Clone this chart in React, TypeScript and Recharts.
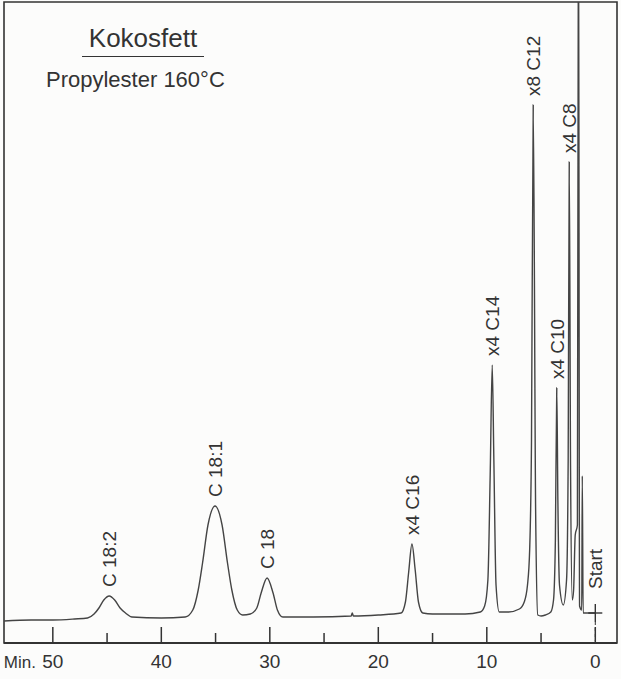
import React from "react";
import {
  ComposedChart,
  Line,
  XAxis,
  YAxis,
  ReferenceArea,
  ReferenceDot,
} from "recharts";

// Retention time (minutes) of points
const traceTimes = [
  0, 1.12, 1.2, 1.25, 1.45, 1.55, 1.65, 1.85, 2.0, 2.12, 2.28, 2.4, 2.5, 2.65,
  2.95, 3.3, 3.45, 3.55, 3.68, 3.85, 4.1, 4.6, 5.0, 5.3, 5.5, 5.72, 5.88, 6.05,
  6.25, 6.55, 7.0, 8.0, 8.85, 9.15, 9.35, 9.5, 9.68, 9.9, 10.2, 10.6, 12.0,
  15.0, 15.9, 16.3, 16.6, 16.9, 17.2, 17.5, 17.9, 20.0, 22.3, 22.4, 22.5, 26.0,
  28.8, 29.3, 29.7, 30.25, 30.8, 31.2, 31.8, 32.5, 33.0, 33.5, 33.9, 34.4,
  35.05, 35.7, 36.2, 36.6, 37.1, 37.8, 40.0, 42.7, 43.3, 43.8, 44.3, 44.8,
  45.3, 45.75, 46.2, 46.8, 48.0, 50.0, 52.0, 54.5,
];
// Detector signal (pen deflection, arbitrary units) at those times
const traceSignal = [
  7, 7, 144, 10, 14, 760, 95, 85, 30, 20, 150, 458, 160, 40,
  15, 35, 120, 232, 80, 20, 8, 5, 4, 5, 110, 515, 180, 70,
  35, 18, 11, 8, 8, 35, 160, 255, 150, 40, 14, 8, 6,
  6, 7, 18, 50, 76, 48, 18, 7, 5, 4, 7, 4, 3,
  3, 10, 27, 42, 27, 12, 6, 5, 10, 30, 57, 95,
  114, 95, 57, 30, 10, 3, 2, 3, 7, 12, 20, 24,
  20, 12, 6, 2, 1, 0, 0, -1,
];

// Peak annotations
const peakNames = ["C 18:2", "C 18:1", "C 18", "x4 C16", "x4 C14", "x8 C12", "x4 C10", "x4 C8"];
const peakTimes = [44.8, 35.05, 30.25, 16.9, 9.5, 5.72, 3.55, 2.4];
const peakHeights = [24, 114, 42, 76, 255, 515, 232, 458];

// Axis
const axisTicks = [0, 5, 10, 15, 20, 25, 30, 35, 40, 45, 50];
const majorTicks = [0, 10, 20, 30, 40, 50];
const startTime = 0;
const startSignal = 7;

const traceData = traceTimes.map((t, i) => ({ t, s: traceSignal[i] }));
const peakData = peakTimes.map((t, i) => ({ t, s: peakHeights[i], name: peakNames[i] }));

const FONT = "'Liberation Sans', Arial, sans-serif";
const INK = "#333333";

const AxisTick = (props: any) => {
  const { x, y, payload } = props;
  const v = payload.value;
  const major = majorTicks.includes(v);
  return (
    <g>
      <line x1={x} x2={x} y1={y - (major ? 16 : 10)} y2={y} stroke={INK} strokeWidth={1.5} />
      {major && (
        <text x={x} y={y + 25} textAnchor="middle" fontSize={19} fontFamily={FONT} fill={INK}>
          {v}
        </text>
      )}
      {v === 50 && (
        <text x={x - 49} y={y + 25} textAnchor="start" fontSize={17} fontFamily={FONT} fill={INK}>
          Min.
        </text>
      )}
    </g>
  );
};

const PeakLabel = (props: any) => {
  const { x, y, index } = props;
  const fs = 19;
  const bx = x + fs * 0.36;
  const by = y - 9;
  return (
    <text
      x={bx}
      y={by}
      transform={`rotate(-90, ${bx}, ${by})`}
      textAnchor="start"
      fontSize={fs}
      fontFamily={FONT}
      fill={INK}
    >
      {peakNames[index]}
    </text>
  );
};

const StartMark = (props: any) => {
  const { cx, cy } = props;
  const fs = 19;
  const bx = cx + fs * 0.36;
  const by = cy - 24;
  return (
    <g>
      <line x1={cx - 7} x2={cx + 7} y1={cy} y2={cy} stroke={INK} strokeWidth={1.4} />
      <line x1={cx} x2={cx} y1={cy - 9} y2={cy + 9} stroke={INK} strokeWidth={1.4} />
      <line x1={cx} x2={cx} y1={cy + 9} y2={cy + 28} stroke={INK} strokeWidth={1} strokeDasharray="3 3" />
      <text
        x={bx}
        y={by}
        transform={`rotate(-90, ${bx}, ${by})`}
        textAnchor="start"
        fontSize={fs}
        fontFamily={FONT}
        fill={INK}
      >
        Start
      </text>
    </g>
  );
};

export default function App() {
  return (
    <div
      style={{
        position: "absolute",
        left: 0,
        top: 0,
        width: 621,
        height: 679,
        background: "#fcfcfb",
        fontFamily: FONT,
      }}
    >
      <ComposedChart
        width={621}
        height={679}
        data={traceData}
        margin={{ top: 2, right: 4, bottom: 6, left: 4 }}
      >
        <XAxis
          dataKey="t"
          type="number"
          domain={[-2, 54.5]}
          reversed
          allowDataOverflow
          ticks={axisTicks}
          interval={0}
          height={30}
          tickSize={0}
          tickMargin={0}
          tickLine={false}
          axisLine={{ stroke: INK, strokeWidth: 1.8 }}
          tick={<AxisTick />}
        />
        <YAxis type="number" domain={[-23, 618]} allowDataOverflow hide />
        <ReferenceArea
          x1={-2}
          x2={54.5}
          y1={-23}
          y2={618}
          fill="none"
          stroke={INK}
          strokeWidth={1.6}
          ifOverflow="visible"
        />
        <Line
          data={traceData}
          dataKey="s"
          type="monotone"
          stroke="#444444"
          strokeWidth={1.4}
          dot={false}
          activeDot={false}
          isAnimationActive={false}
        />
        <Line
          data={peakData}
          dataKey="s"
          stroke="none"
          dot={false}
          activeDot={false}
          isAnimationActive={false}
          label={<PeakLabel />}
        />
        <ReferenceDot x={startTime} y={startSignal} r={0} shape={<StartMark />} ifOverflow="visible" />
      </ComposedChart>
      <div
        style={{
          position: "absolute",
          left: 82,
          top: 22,
          width: 122,
          textAlign: "center",
          fontSize: 26,
          color: INK,
          lineHeight: "32px",
          borderBottom: `1.6px solid ${INK}`,
          paddingBottom: 2,
        }}
      >
        Kokosfett
      </div>
      <div
        style={{
          position: "absolute",
          left: 46,
          top: 66,
          fontSize: 22,
          color: INK,
          lineHeight: "28px",
          whiteSpace: "nowrap",
        }}
      >
        Propylester 160°C
      </div>
    </div>
  );
}
